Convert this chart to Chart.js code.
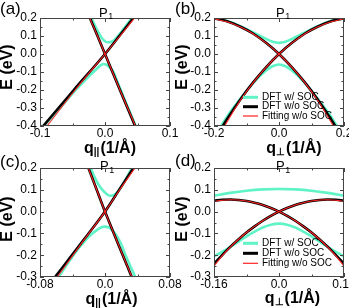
<!DOCTYPE html>
<html><head><meta charset="utf-8">
<script src="https://cdn.jsdelivr.net/npm/chart.js@4.4.1/dist/chart.umd.min.js"></script>
<style>
html,body{margin:0;padding:0;background:#fff;}
#wrap{position:relative;width:349px;height:308px;overflow:hidden;background:#fff;}
canvas{position:absolute;left:0;top:0;}
</style></head><body>
<div id="wrap">
<canvas id="ca" width="349" height="308"></canvas>
<canvas id="cb" width="349" height="308"></canvas>
<canvas id="cc" width="349" height="308"></canvas>
<canvas id="cd" width="349" height="308"></canvas>
</div>
<script>
// ---------------- DATA ----------------
// Panel (a)  q_parallel, E
const aBlkPx = [-0.098, -0.048, 0, 0.022, 0.045];
const aBlkPy = [-0.413, -0.2, 0, 0.1, 0.207];
const aRedPx = [-0.092, -0.046, 0, 0.023, 0.047];
const aRedPy = [-0.413, -0.2, 0, 0.1, 0.207];
const aBlkNx = [-0.024, -0.0115, 0, 0.023, 0.0475];
const aBlkNy = [0.207, 0.1, 0, -0.2, -0.41];
const aRedNx = [-0.0245, -0.0115, 0, 0.023, 0.048];
const aRedNy = [0.207, 0.1, 0, -0.2, -0.41];
const aSocUpX = [-0.0215, -0.017, -0.0125, -0.008, -0.004, 0, 0.005, 0.01, 0.015, 0.021, 0.027, 0.034, 0.043];
const aSocUpY = [0.205, 0.17, 0.135, 0.107, 0.085, 0.071, 0.065, 0.068, 0.08, 0.105, 0.132, 0.165, 0.207];
const aSocLoX = [-0.099, -0.08, -0.06, -0.045, -0.032, -0.022, -0.015, -0.009, -0.0026, 0.003, 0.008, 0.013, 0.02, 0.03, 0.04, 0.049];
const aSocLoY = [-0.415, -0.345, -0.262, -0.2, -0.15, -0.114, -0.09, -0.07, -0.0556, -0.062, -0.078, -0.1, -0.162, -0.252, -0.337, -0.415];

// Panel (b)  q_perp, E
const bBlkAx = [-0.18, -0.16, -0.12, -0.08, -0.04, 0, 0.04, 0.08, 0.12, 0.16, 0.2];
const bBlkAy = [-0.42, -0.362, -0.255, -0.159, -0.074, 0, 0.062, 0.114, 0.153, 0.182, 0.199];
const bBlkDx = [-0.2, -0.16, -0.12, -0.08, -0.04, 0, 0.04, 0.08, 0.12, 0.16, 0.18];
const bBlkDy = [0.199, 0.182, 0.153, 0.114, 0.062, 0, -0.074, -0.159, -0.255, -0.362, -0.42];
const bRedAy = [-0.445, -0.378, -0.26, -0.16, -0.074, 0, 0.062, 0.113, 0.151, 0.179, 0.196];
const bRedDy = [0.196, 0.179, 0.151, 0.113, 0.062, 0, -0.074, -0.16, -0.26, -0.378, -0.445];
const bSocUpX = [-0.2, -0.16, -0.12, -0.08, -0.04, -0.02, 0, 0.02, 0.04, 0.08, 0.12, 0.16, 0.2];
const bSocUpY = [0.203, 0.183, 0.155, 0.12, 0.084, 0.068, 0.062, 0.068, 0.084, 0.12, 0.155, 0.183, 0.203];
const bSocLoX = [-0.185, -0.16, -0.12, -0.08, -0.04, -0.02, 0, 0.02, 0.04, 0.08, 0.12, 0.16, 0.185];
const bSocLoY = [-0.42, -0.348, -0.252, -0.162, -0.092, -0.068, -0.058, -0.068, -0.092, -0.162, -0.252, -0.348, -0.42];

// Panel (c)  q_parallel, E
const cBlkPx = [-0.0635, -0.03, 0, 0.018, 0.036];
const cBlkPy = [-0.31, -0.148, 0, 0.103, 0.206];
const cRedPx = [-0.0607, -0.029, 0, 0.018, 0.038];
const cRedPy = [-0.31, -0.146, 0, 0.1, 0.206];
const cBlkNx = [-0.021, -0.01, 0, 0.016, 0.034];
const cBlkNy = [0.206, 0.098, 0, -0.147, -0.31];
const cRedNx = [-0.0212, -0.01, 0, 0.016, 0.0342];
const cRedNy = [0.206, 0.098, 0, -0.147, -0.31];
const cSocUpX = [-0.0182, -0.014, -0.01, -0.006, -0.002, 0.002, 0.0062, 0.011, 0.016, 0.021, 0.027, 0.034];
const cSocUpY = [0.206, 0.168, 0.138, 0.113, 0.095, 0.081, 0.073, 0.076, 0.093, 0.12, 0.158, 0.206];
const cSocLoX = [-0.058, -0.045, -0.035, -0.025, -0.017, -0.01, -0.005, 0, 0.005, 0.01, 0.015, 0.02, 0.0246, 0.03, 0.038];
const cSocLoY = [-0.306, -0.232, -0.18, -0.135, -0.105, -0.085, -0.073, -0.069, -0.074, -0.09, -0.115, -0.15, -0.194, -0.24, -0.306];

// Panel (d)  q_perp, E
const dQ = [-0.16, -0.14, -0.12, -0.1, -0.08, -0.06, -0.04, -0.02, 0, 0.02, 0.04, 0.06, 0.08, 0.1, 0.12, 0.14, 0.16];
const dBlkAy = [-0.24, -0.1995, -0.162, -0.128, -0.096, -0.068, -0.042, -0.0196, 0, 0.0166, 0.0303, 0.041, 0.0488, 0.0535, 0.0553, 0.0541, 0.05];
const dBlkDy = [0.05, 0.0541, 0.0553, 0.0535, 0.0488, 0.041, 0.0303, 0.0166, 0, -0.0196, -0.042, -0.068, -0.096, -0.128, -0.162, -0.1995, -0.24];
const dRedAy = [-0.25, -0.203, -0.163, -0.128, -0.096, -0.068, -0.042, -0.0196, 0, 0.0166, 0.0303, 0.041, 0.0488, 0.0532, 0.0545, 0.052, 0.046];
const dRedDy = [0.046, 0.052, 0.0545, 0.0532, 0.0488, 0.041, 0.0303, 0.0166, 0, -0.0196, -0.042, -0.068, -0.096, -0.128, -0.163, -0.203, -0.25];
const dSocUpX = [-0.16, -0.12, -0.08, -0.04, 0, 0.04, 0.08, 0.12, 0.16];
const dSocUpY = [0.073, 0.086, 0.096, 0.102, 0.104, 0.102, 0.096, 0.086, 0.073];
const dSocLoY = [-0.205, -0.185, -0.162, -0.138, -0.114, -0.092, -0.073, -0.06, -0.055, -0.06, -0.073, -0.092, -0.114, -0.138, -0.162, -0.185, -0.205];

const legendNames = ['DFT w/ SOC', 'DFT w/o SOC', 'Fitting w/o SOC'];
const panelLetters = ['(a)', '(b)', '(c)', '(d)'];

// ---------------- STYLE ----------------
const SOC_COLOR = '#5ff3c6', BLK_COLOR = '#000000', RED_COLOR = '#ff2222';
const SOC_W = 2.6, BLK_W = 2.6, RED_W = 1.1;
const FAM = "'Liberation Sans Narrow','Liberation Sans',Arial,sans-serif";
const FAM_T = "'Liberation Sans',Arial,sans-serif";
const W = 349, H = 308, YW = 36, XH = 20;

function ser(xs, ys, color, width, order) {
  return { data: xs.map((x, i) => ({ x: x, y: ys[i] })), borderColor: color, borderWidth: width,
    order: order, pointRadius: 0, fill: false, cubicInterpolationMode: 'monotone', clip: 0 };
}
function fmt(dec) {
  return v => Math.abs(v) < 1e-9 ? '0.0' : v.toFixed(dec);
}

function deco(p) {
  return {
    id: 'deco',
    afterDatasetsDraw(chart) {
      const ctx = chart.ctx, a = chart.chartArea, xs = chart.scales.x, ys = chart.scales.y;
      ctx.save();
      ctx.strokeStyle = '#454545'; ctx.lineWidth = 1;
      ctx.strokeRect(a.left + 0.5, a.top + 0.5, a.right - a.left - 1, a.bottom - a.top - 1);
      ctx.beginPath();
      const xstep = p.xStep / 2, ystep = p.yStep / 2;
      for (let k = 0; ; k++) {
        const v = p.xMin + k * xstep; if (v > p.xMax + 1e-9) break;
        const px = Math.round(xs.getPixelForValue(v)) + 0.5, len = (k % 2 === 0) ? 4 : 2.5;
        ctx.moveTo(px, a.bottom); ctx.lineTo(px, a.bottom - len);
        ctx.moveTo(px, a.top); ctx.lineTo(px, a.top + len);
      }
      for (let k = 0; ; k++) {
        const v = p.yMin + k * ystep; if (v > p.yMax + 1e-9) break;
        const py = Math.round(ys.getPixelForValue(v)) + 0.5, len = (k % 2 === 0) ? 4 : 2.5;
        ctx.moveTo(a.left, py); ctx.lineTo(a.left + len, py);
        ctx.moveTo(a.right, py); ctx.lineTo(a.right - len, py);
      }
      ctx.stroke();
      ctx.restore();
    },
    afterDraw(chart) {
      const ctx = chart.ctx, a = chart.chartArea;
      ctx.save();
      ctx.fillStyle = '#000';
      ctx.textBaseline = 'alphabetic';
      // panel letter
      ctx.font = '17px ' + FAM_T; ctx.textAlign = 'left';
      ctx.fillText(p.letter, p.letterX, p.letterY);
      // title P1
      ctx.font = '13px ' + FAM_T;
      ctx.fillText('P', p.titleX, p.titleY);
      const pw = ctx.measureText('P').width;
      ctx.font = '9px ' + FAM_T;
      ctx.fillText('1', p.titleX + pw + 0.5, p.titleY + 2.5);
      // y title
      ctx.save();
      ctx.translate(p.yTitleX, p.yTitleY); ctx.rotate(-Math.PI / 2);
      ctx.font = 'bold 16px ' + FAM_T; ctx.textAlign = 'center'; ctx.textBaseline = 'middle';
      ctx.fillText('E (eV)', 0, 0);
      ctx.restore();
      // x title
      ctx.font = 'bold 16px ' + FAM_T;
      const w1 = ctx.measureText('q').width;
      ctx.font = 'bold 10px ' + FAM_T;
      const w2 = ctx.measureText(p.sub).width;
      ctx.font = 'bold 16px ' + FAM_T;
      const w3 = ctx.measureText('(1/Å)').width;
      let x0 = p.xTitleX - (w1 + w2 + w3 + 1) / 2;
      ctx.textAlign = 'left';
      ctx.fillText('q', x0, p.xTitleY);
      ctx.font = 'bold 10px ' + FAM_T;
      ctx.fillText(p.sub, x0 + w1, p.xTitleY + 2);
      ctx.font = 'bold 16px ' + FAM_T;
      ctx.fillText('(1/Å)', x0 + w1 + w2 + 1, p.xTitleY);
      // legend
      if (p.legend) {
        const cols = [SOC_COLOR, BLK_COLOR, RED_COLOR], lws = [3, 3, 1.2];
        ctx.font = '10px ' + FAM_T; ctx.textBaseline = 'middle';
        for (let i = 0; i < 3; i++) {
          const y = p.legendY[i];
          ctx.strokeStyle = cols[i]; ctx.lineWidth = lws[i];
          ctx.beginPath(); ctx.moveTo(p.legendX, y); ctx.lineTo(p.legendX + 15, y); ctx.stroke();
          ctx.fillText(legendNames[i], p.legendX + 19, y);
        }
      }
      ctx.restore();
    }
  };
}

function makePanel(id, p, datasets) {
  const pad = { left: p.L - YW, top: p.T, right: W - p.R, bottom: H - p.B - XH };
  new Chart(document.getElementById(id), {
    type: 'line',
    data: { datasets: datasets },
    options: {
      responsive: false, animation: false, devicePixelRatio: 1,
      layout: { padding: pad },
      plugins: { legend: { display: false }, tooltip: { enabled: false }, title: { display: false } },
      scales: {
        x: { type: 'linear', min: p.xMin, max: p.xMax,
          ticks: { stepSize: p.xStep, callback: fmt(p.xDec), color: '#000', padding: 0, maxRotation: 0, autoSkip: false,
            font: { family: FAM, size: 12 } },
          grid: { display: false, drawTicks: false }, border: { display: false },
          afterFit: s => { s.height = XH; s.paddingLeft = 0; s.paddingRight = 0; } },
        y: { type: 'linear', min: p.yMin, max: p.yMax,
          ticks: { stepSize: p.yStep, callback: fmt(1), color: '#000', padding: 3, autoSkip: false,
            font: { family: FAM, size: 12 } },
          grid: { display: false, drawTicks: false }, border: { display: false },
          afterFit: s => { s.width = YW; s.paddingTop = 0; s.paddingBottom = 0; } }
      }
    },
    plugins: [deco(p)]
  });
}

makePanel('ca', { L: 40, T: 18, R: 170, B: 126, xMin: -0.1, xMax: 0.1, xStep: 0.1, xDec: 1, yMin: -0.4, yMax: 0.2, yStep: 0.1,
  letter: panelLetters[0], letterX: 0, letterY: 13.5, titleX: 99, titleY: 16.5, yTitleX: 8, yTitleY: 67,
  xTitleX: 110, xTitleY: 153, sub: '||', legend: false }, [
  ser(aRedPx, aRedPy, RED_COLOR, RED_W, 1), ser(aRedNx, aRedNy, RED_COLOR, RED_W, 1),
  ser(aBlkPx, aBlkPy, BLK_COLOR, BLK_W, 2), ser(aBlkNx, aBlkNy, BLK_COLOR, BLK_W, 2),
  ser(aSocUpX, aSocUpY, SOC_COLOR, SOC_W, 3), ser(aSocLoX, aSocLoY, SOC_COLOR, SOC_W, 3)
]);

makePanel('cb', { L: 214, T: 18, R: 344, B: 126, xMin: -0.2, xMax: 0.2, xStep: 0.2, xDec: 1, yMin: -0.4, yMax: 0.2, yStep: 0.1,
  letter: panelLetters[1], letterX: 175, letterY: 13.5, titleX: 276, titleY: 16.5, yTitleX: 183, yTitleY: 67,
  xTitleX: 294, xTitleY: 153, sub: '⊥', legend: true, legendX: 243, legendY: [97.3, 106.7, 116] }, [
  ser(bBlkAx, bRedAy, RED_COLOR, RED_W, 1), ser(bBlkDx, bRedDy, RED_COLOR, RED_W, 1),
  ser(bBlkAx, bBlkAy, BLK_COLOR, BLK_W, 2), ser(bBlkDx, bBlkDy, BLK_COLOR, BLK_W, 2),
  ser(bSocUpX, bSocUpY, SOC_COLOR, SOC_W, 3), ser(bSocLoX, bSocLoY, SOC_COLOR, SOC_W, 3)
]);

makePanel('cc', { L: 40, T: 168, R: 170, B: 277, xMin: -0.08, xMax: 0.08, xStep: 0.08, xDec: 2, yMin: -0.3, yMax: 0.2, yStep: 0.1,
  letter: panelLetters[2], letterX: 0, letterY: 167, titleX: 100, titleY: 170, yTitleX: 8, yTitleY: 219,
  xTitleX: 111.5, xTitleY: 304, sub: '||', legend: false }, [
  ser(cRedPx, cRedPy, RED_COLOR, RED_W, 1), ser(cRedNx, cRedNy, RED_COLOR, RED_W, 1),
  ser(cBlkPx, cBlkPy, BLK_COLOR, BLK_W, 2), ser(cBlkNx, cBlkNy, BLK_COLOR, BLK_W, 2),
  ser(cSocUpX, cSocUpY, SOC_COLOR, SOC_W, 3), ser(cSocLoX, cSocLoY, SOC_COLOR, SOC_W, 3)
]);

makePanel('cd', { L: 214, T: 168, R: 344, B: 277, xMin: -0.16, xMax: 0.16, xStep: 0.16, xDec: 2, yMin: -0.3, yMax: 0.2, yStep: 0.1,
  letter: panelLetters[3], letterX: 175, letterY: 166, titleX: 276, titleY: 170, yTitleX: 183, yTitleY: 219,
  xTitleX: 292.5, xTitleY: 303, sub: '⊥', legend: true, legendX: 243, legendY: [243.3, 253.3, 263.3] }, [
  ser(dQ, dRedAy, RED_COLOR, RED_W, 1), ser(dQ, dRedDy, RED_COLOR, RED_W, 1),
  ser(dQ, dBlkAy, BLK_COLOR, BLK_W, 2), ser(dQ, dBlkDy, BLK_COLOR, BLK_W, 2),
  ser(dSocUpX, dSocUpY, SOC_COLOR, SOC_W, 3), ser(dQ, dSocLoY, SOC_COLOR, SOC_W, 3)
]);
</script>
</body></html>
